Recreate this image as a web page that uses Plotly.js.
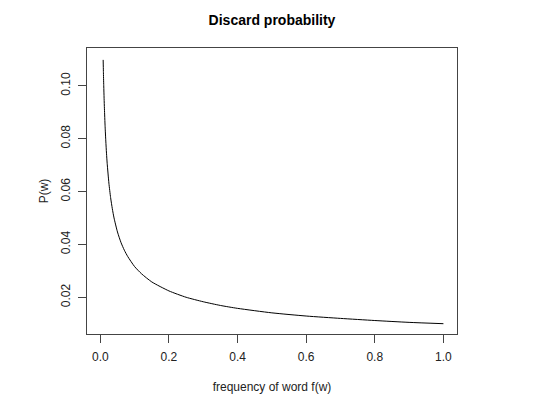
<!DOCTYPE html>
<html>
<head>
<meta charset="utf-8">
<script src="https://cdn.plot.ly/plotly-3.0.1.min.js"></script>
<style>
  html, body { margin: 0; padding: 0; background: #fff; }
  #chart { width: 554px; height: 410px; }
</style>
</head>
<body>
<div id="chart"></div>
<script>
// Word frequency f(w) and discard probability P(w)
const freq = [0.0083, 0.009, 0.01, 0.011, 0.012, 0.014, 0.016, 0.018, 0.02, 0.025,
              0.03, 0.035, 0.04, 0.05, 0.06, 0.07, 0.08, 0.1, 0.12, 0.15,
              0.2, 0.25, 0.3, 0.35, 0.4, 0.5, 0.6, 0.7, 0.8, 0.9, 1.0];
const prob = [0.1098, 0.1054, 0.1, 0.0953, 0.0913, 0.0845, 0.0791, 0.0745, 0.0707, 0.0632,
              0.0577, 0.0535, 0.05, 0.0447, 0.0408, 0.0378, 0.0354, 0.0316, 0.0289, 0.0258,
              0.0224, 0.02, 0.0183, 0.0169, 0.0158, 0.0141, 0.0129, 0.012, 0.0112, 0.0105, 0.01];

const xTicks = [0, 0.2, 0.4, 0.6, 0.8, 1.0];
const xTickText = ['0.0', '0.2', '0.4', '0.6', '0.8', '1.0'];
const yTicks = [0.02, 0.04, 0.06, 0.08, 0.10];
const yTickText = ['0.02', '0.04', '0.06', '0.08', '0.10'];

const font = 'Liberation Sans, Arial, Helvetica, sans-serif';

const data = [{
    x: freq,
    y: prob,
    type: 'scatter',
    mode: 'lines',
    line: { color: '#000', width: 1, shape: 'spline', smoothing: 0.6 },
    hoverinfo: 'skip'
}];

const layout = {
    width: 554,
    height: 410,
    paper_bgcolor: '#fff',
    plot_bgcolor: '#fff',
    showlegend: false,
    margin: { l: 87, r: 97, t: 48, b: 76 },
    font: { family: font, size: 12, color: '#000' },
    title: {
        text: '<b>Discard probability</b>',
        font: { family: font, size: 14, color: '#000' },
        x: 0.491, xanchor: 'center',
        y: 0.95, yanchor: 'middle'
    },
    xaxis: {
        range: [-0.0388, 1.0396],
        tickvals: xTicks,
        ticktext: xTickText,
        ticks: 'outside',
        ticklen: 8,
        tickcolor: '#444',
        ticklabelstandoff: 4,
        tickfont: { family: font, size: 12, color: '#222' },
        showgrid: false,
        zeroline: false,
        showline: true,
        mirror: true,
        linecolor: '#444',
        linewidth: 1,
        title: { text: 'frequency of word f(w)', font: { family: font, size: 12, color: '#222' }, standoff: 19 }
    },
    yaxis: {
        range: [0.0061, 0.1143],
        tickvals: yTicks,
        ticktext: yTickText,
        tickangle: -90,
        ticks: 'outside',
        ticklen: 8,
        tickcolor: '#444',
        ticklabelstandoff: 3,
        tickfont: { family: font, size: 12, color: '#222' },
        showgrid: false,
        zeroline: false,
        showline: true,
        mirror: true,
        linecolor: '#444',
        linewidth: 1,
        title: { text: 'P(w)', font: { family: font, size: 12, color: '#222' }, standoff: 8 }
    }
};

Plotly.newPlot('chart', data, layout, { displayModeBar: false, staticPlot: true });
</script>
</body>
</html>
